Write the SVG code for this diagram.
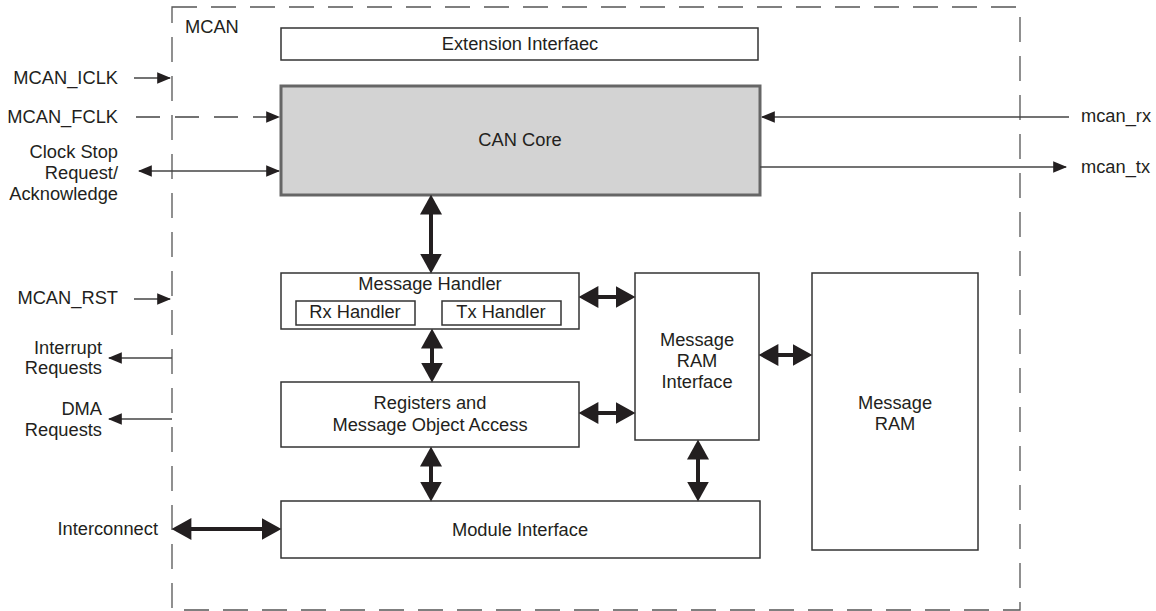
<svg xmlns="http://www.w3.org/2000/svg" width="1156" height="611" viewBox="0 0 1156 611">
<style>
text{font-family:"Liberation Sans",Arial,sans-serif;font-size:18.3px;fill:#231f20}
.m{text-anchor:middle}
.r{text-anchor:end}
.box{fill:#fff;stroke:#333;stroke-width:1.5}
.thin{stroke:#444;stroke-width:1.3;fill:none}
.thick{stroke:#231f20;stroke-width:4;fill:none}
</style>
<defs>
<marker id="ah" markerUnits="userSpaceOnUse" markerWidth="14" markerHeight="12" refX="11" refY="5" orient="auto-start-reverse" viewBox="0 0 12 10"><path d="M0,0L12,5L0,10z" fill="#231f20"/></marker>
<marker id="AH" markerUnits="userSpaceOnUse" markerWidth="20" markerHeight="22" refX="14" refY="10" orient="auto-start-reverse" viewBox="0 0 18 20"><path d="M0,0L18,10L0,20z" fill="#231f20"/></marker>
</defs>
<rect id="mcan" x="172" y="7" width="848" height="603" fill="none" stroke="#555" stroke-width="1.3" stroke-dasharray="25 14"/>
<text x="185" y="33">MCAN</text>

<g id="ext"><rect class="box" x="281" y="28" width="477" height="32"/><text class="m" x="520" y="50">Extension Interfaec</text></g>
<g id="cancore"><rect x="281" y="86" width="479" height="109" fill="#d3d3d3" stroke="#666" stroke-width="3"/><text class="m" x="520" y="146">CAN Core</text></g>
<g id="mh"><rect class="box" x="281" y="273" width="298" height="56"/><text class="m" x="430" y="290">Message Handler</text>
<rect class="box" x="296" y="301" width="119" height="24"/><text class="m" x="355" y="318">Rx Handler</text>
<rect class="box" x="442" y="301" width="119" height="24"/><text class="m" x="501" y="318">Tx Handler</text></g>
<g id="reg"><rect class="box" x="281" y="382" width="298" height="65"/><text class="m" x="430" y="409">Registers and</text><text class="m" x="430" y="431">Message Object Access</text></g>
<g id="mri"><rect class="box" x="635" y="273" width="124" height="167"/><text class="m" x="697" y="346">Message</text><text class="m" x="697" y="367">RAM</text><text class="m" x="697" y="388">Interface</text></g>
<g id="mram"><rect class="box" x="812" y="273" width="166" height="277"/><text class="m" x="895" y="409">Message</text><text class="m" x="895" y="430">RAM</text></g>
<g id="modif"><rect class="box" x="281" y="501" width="479" height="57"/><text class="m" x="520" y="536">Module Interface</text></g>

<g id="labels">
<text class="r" x="118" y="84">MCAN_ICLK</text>
<text class="r" x="118" y="123">MCAN_FCLK</text>
<text class="r" x="118" y="158">Clock Stop</text>
<text class="r" x="118" y="179">Request/</text>
<text class="r" x="118" y="200">Acknowledge</text>
<text class="r" x="118" y="304">MCAN_RST</text>
<text class="r" x="102" y="354">Interrupt</text>
<text class="r" x="102" y="374">Requests</text>
<text class="r" x="102" y="415">DMA</text>
<text class="r" x="102" y="436">Requests</text>
<text class="r" x="158" y="535">Interconnect</text>
<text x="1081" y="122">mcan_rx</text>
<text x="1081" y="173">mcan_tx</text>
</g>

<g id="connectors">
<path class="thin" d="M134,78H170" marker-end="url(#ah)"/>
<path class="thin" d="M136,117H279" stroke-dasharray="24 15" marker-end="url(#ah)"/>
<path class="thin" d="M139,171H279" marker-start="url(#ah)" marker-end="url(#ah)"/>
<path class="thin" d="M134,299H170" marker-end="url(#ah)"/>
<path class="thin" d="M172,358H109" marker-end="url(#ah)"/>
<path class="thin" d="M172,419H109" marker-end="url(#ah)"/>
<path class="thin" d="M1069,117H762" marker-end="url(#ah)"/>
<path class="thin" d="M760,167H1066" marker-end="url(#ah)"/>
<path class="thick" d="M431,199V269" marker-start="url(#AH)" marker-end="url(#AH)"/>
<path class="thick" d="M583,297H631" marker-start="url(#AH)" marker-end="url(#AH)"/>
<path class="thick" d="M432,333V378" marker-start="url(#AH)" marker-end="url(#AH)"/>
<path class="thick" d="M583,413H631" marker-start="url(#AH)" marker-end="url(#AH)"/>
<path class="thick" d="M763,355H808" marker-start="url(#AH)" marker-end="url(#AH)"/>
<path class="thick" d="M431,451V497" marker-start="url(#AH)" marker-end="url(#AH)"/>
<path class="thick" d="M698,444V497" marker-start="url(#AH)" marker-end="url(#AH)"/>
<path class="thick" d="M176,529H277" marker-start="url(#AH)" marker-end="url(#AH)"/>
</g>
</svg>
